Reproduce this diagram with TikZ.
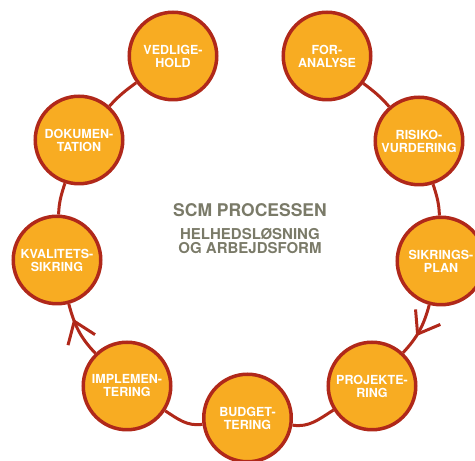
\documentclass[tikz,border=0pt]{standalone}
\usepackage{xcolor}
\usepackage{fontspec}
\setmainfont{TeX Gyre Heros}
\usetikzlibrary{backgrounds,decorations.markings}

\definecolor{scmorange}{HTML}{F8AC22}
\definecolor{scmred}{HTML}{B0281A}
\definecolor{scmgray}{HTML}{7A7A68}

\begin{document}
\begin{tikzpicture}[x=1pt, y=1pt]
  % styles
  \tikzstyle{stage}=[circle, draw=scmred, fill=scmorange, line width=3.5pt, minimum size=87.5pt, inner sep=0pt, align=center, text=white, font=\fontsize{12.5}{13}\selectfont\bfseries]
  \tikzstyle{line} = [draw=scmred, line width=3pt]
  \tikzset{aline/.style={line, postaction={decorate}, decoration={markings, mark=at position #1 with {\draw [scmred, line width=3pt, miter limit=10] (-20pt,14.5pt) -- (0pt,0pt) -- (-20pt,-14.5pt);}}}}

  \useasboundingbox (0,0) rectangle (475,461);

  % the nine stages, clockwise from the top
  \node [stage] (for_analyse) at (327,405) {FOR-\\ANALYSE};
  \node [stage] (risiko_vurdering) at (419,320) {RISIKO-\\VURDERING};
  \node [stage] (sikrings_plan) at (441,200) {SIKRINGS-\\PLAN};
  \node [stage] (projektering) at (372,75) {PROJEKTE-\\RING};
  \node [stage] (budgettering) at (247.5,43) {BUDGET-\\TERING};
  \node [stage] (implementering) at (127,75) {IMPLEMEN-\\TERING};
  \node [stage] (kvalitets_sikring) at (57,201) {KVALITETS-\\SIKRING};
  \node [stage] (dokumentation) at (79,321) {DOKUMEN-\\TATION};
  \node [stage] (vedligehold) at (173,405) {VEDLIGE-\\HOLD};

  % title in the middle
  \node [anchor=base, text=scmgray, font=\fontsize{17.5}{18}\selectfont\bfseries] (title) at (250,244) {SCM PROCESSEN};
  \node [text=scmgray, align=center, inner sep=0pt, font=\fontsize{15}{14}\selectfont\bfseries] (subtitle) at (250,220) {HELHEDSLØSNING\\OG ARBEJDSFORM};

  \begin{scope}[on background layer]
    \draw [line] (for_analyse) to [out=-37, in=131] (risiko_vurdering);
    \draw [line] (risiko_vurdering) to [out=-72, in=92] (sikrings_plan);
    \draw [aline=0.57] (sikrings_plan) to [out=-105, in=47] (projektering);
    \draw [line] (projektering) to [out=-148, in=-9] (budgettering);
    \draw [line] (budgettering) to [out=188, in=-33] (implementering);
    \draw [aline=0.68] (implementering) to [out=134, in=-75] (kvalitets_sikring);
    \draw [line] (kvalitets_sikring) to [out=88, in=-108] (dokumentation);
    \draw [line] (dokumentation) to [out=48, in=-144] (vedligehold);
  \end{scope}
\end{tikzpicture}
\end{document}
